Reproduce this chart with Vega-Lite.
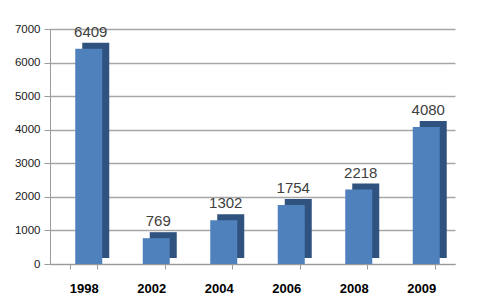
{
  "$schema": "https://vega.github.io/schema/vega-lite/v6.json",
  "autosize": "none",
  "width": 405,
  "height": 235,
  "padding": {"left": 50, "top": 29, "right": 45, "bottom": 40},
  "background": "white",
  "config": {
    "view": {"stroke": null},
    "font": "Liberation Sans"
  },
  "data": {
    "values": [
      {"year": "1998", "value": 6409},
      {"year": "2002", "value": 769},
      {"year": "2004", "value": 1302},
      {"year": "2006", "value": 1754},
      {"year": "2008", "value": 2218},
      {"year": "2009", "value": 4080}
    ]
  },
  "encoding": {
    "x": {
      "field": "year",
      "type": "ordinal",
      "sort": null,
      "scale": {"paddingInner": 0.6, "paddingOuter": 0.3},
      "axis": {
        "title": null,
        "labelAngle": 0,
        "labelFont": "Liberation Sans",
        "labelFontSize": 13,
        "labelFontWeight": "bold",
        "labelColor": "#000000",
        "labelPadding": 13,
        "domainColor": "#9a9a9a",
        "tickColor": "#9a9a9a",
        "tickBand": "extent",
        "tickSize": 5
      }
    },
    "y": {
      "field": "value",
      "type": "quantitative",
      "scale": {"domain": [0, 7000]},
      "axis": {
        "title": null,
        "format": "d",
        "values": [0, 1000, 2000, 3000, 4000, 5000, 6000, 7000],
        "labelFont": "Liberation Sans",
        "labelFontSize": 11.5,
        "labelColor": "#1a1a1a",
        "labelPadding": 4,
        "domainColor": "#9a9a9a",
        "tickColor": "#9a9a9a",
        "tickSize": 6,
        "gridColor": "#a6a6a6",
        "gridWidth": 1.5
      }
    }
  },
  "layer": [
    {
      "mark": {"type": "bar", "color": "#30527E", "xOffset": 12, "x2Offset": 12, "yOffset": -6, "y2Offset": -6},
      "encoding": {}
    },
    {
      "mark": {"type": "bar", "color": "#4F81BD", "xOffset": 5, "x2Offset": 5},
      "encoding": {}
    },
    {
      "mark": {"type": "text", "dy": -17, "dx": 7, "fontSize": 15, "color": "#404040", "font": "Liberation Sans"},
      "encoding": {"text": {"field": "value", "type": "quantitative", "format": "d"}}
    }
  ]
}
